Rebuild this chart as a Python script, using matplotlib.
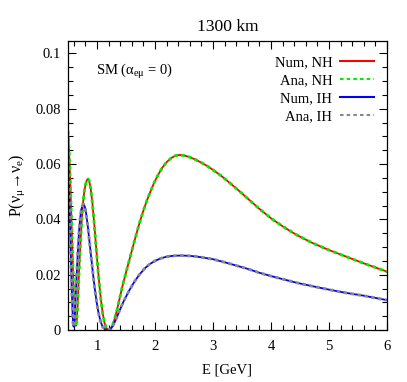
import numpy as np
import matplotlib
matplotlib.use('Agg')
import matplotlib.pyplot as plt
from matplotlib.ticker import MultipleLocator, FormatStrFormatter

# values (E in GeV, probability)
E_nh = [0.50, 0.52, 0.54, 0.56, 0.58, 0.60, 0.62, 0.635, 0.65, 0.665, 0.68, 0.70,
        0.72, 0.74, 0.76, 0.78, 0.80, 0.825, 0.845, 0.865, 0.89, 0.92, 0.95, 0.98,
        1.01, 1.04, 1.07, 1.10, 1.13, 1.16, 1.19, 1.22, 1.25, 1.29, 1.34, 1.38,
        1.44, 1.50, 1.56, 1.62, 1.68, 1.74, 1.80, 1.86, 1.92, 1.98, 2.05, 2.12,
        2.20, 2.28, 2.35, 2.42, 2.50, 2.60, 2.70, 2.80, 2.90, 3.00, 3.15, 3.30,
        3.45, 3.60, 3.80, 4.00, 4.20, 4.44, 4.70, 5.00, 5.30, 5.60, 5.80, 6.00]
P_nh = [0.0720, 0.0640, 0.0530, 0.0395, 0.0255, 0.0130, 0.0045, 0.0015, 0.0030,
        0.0085, 0.0160, 0.0255, 0.0335, 0.0405, 0.0460, 0.0500, 0.0524, 0.0542,
        0.0546, 0.0539, 0.0513, 0.0460, 0.0390, 0.0312, 0.0235, 0.0165, 0.0105,
        0.0058, 0.0025, 0.0008, 0.0001, 0.0000, 0.0008, 0.0030, 0.0068, 0.0105,
        0.0160, 0.0208, 0.0255, 0.0302, 0.0348, 0.0392, 0.0432, 0.0468, 0.0500,
        0.0530, 0.0560, 0.0585, 0.0607, 0.0622, 0.0630, 0.0633, 0.0631, 0.0625,
        0.0616, 0.0605, 0.0593, 0.0579, 0.0556, 0.0530, 0.0503, 0.0475, 0.0438,
        0.0404, 0.0375, 0.0344, 0.0316, 0.0289, 0.0265, 0.0241, 0.0226, 0.0211]

E_ih = [0.50, 0.515, 0.53, 0.545, 0.56, 0.575, 0.59, 0.60, 0.615, 0.63, 0.65, 0.67,
        0.69, 0.71, 0.73, 0.75, 0.775, 0.79, 0.81, 0.84, 0.87, 0.90, 0.93, 0.96,
        0.99, 1.02, 1.06, 1.10, 1.15, 1.19, 1.23, 1.27, 1.32, 1.38, 1.46, 1.55,
        1.64, 1.73, 1.82, 1.90, 2.00, 2.10, 2.20, 2.30, 2.40, 2.50, 2.60, 2.70,
        2.80, 3.00, 3.20, 3.40, 3.60, 3.80, 4.00, 4.20, 4.44, 4.70, 5.00, 5.30,
        5.60, 5.80, 6.00]
P_ih = [0.0640, 0.0540, 0.0420, 0.0300, 0.0180, 0.0080, 0.0015, 0.0012, 0.0045,
        0.0110, 0.0200, 0.0285, 0.0355, 0.0405, 0.0436, 0.0450, 0.0453, 0.0446,
        0.0425, 0.0378, 0.0320, 0.0262, 0.0205, 0.0152, 0.0106, 0.0068, 0.0032,
        0.0010, 0.0001, 0.0000, 0.0004, 0.0014, 0.0035, 0.0066, 0.0104, 0.0141,
        0.0173, 0.0200, 0.0222, 0.0237, 0.0250, 0.0259, 0.0265, 0.0268, 0.0269,
        0.0269, 0.0268, 0.0266, 0.0263, 0.0256, 0.0245, 0.0233, 0.0221, 0.0207,
        0.0195, 0.0184, 0.0171, 0.0159, 0.0146, 0.0134, 0.0124, 0.0116, 0.0108]

labels = ['Num, NH', 'Ana, NH', 'Num, IH', 'Ana, IH']

plt.rcParams['font.family'] = ['Liberation Serif', 'DejaVu Serif']
plt.rcParams['mathtext.fontset'] = 'custom'
plt.rcParams['mathtext.rm'] = 'Liberation Serif'
plt.rcParams['mathtext.it'] = 'Liberation Serif:italic'
plt.rcParams['font.size'] = 10.5

fig = plt.figure(figsize=(4.07, 3.82), dpi=100)
ax = fig.add_axes([68 / 407, 1 - 330 / 382, 319 / 407, 289 / 382])

ax.plot(E_nh, P_nh, color='#ff0000', lw=1.3, label=labels[0])
ax.plot(E_nh, P_nh, color='#00ee00', lw=2.1, dashes=(1.2, 1.2), label=labels[1])
ax.plot(E_ih, P_ih, color='#0000ff', lw=1.3, label=labels[2])
ax.plot(E_ih, P_ih, color='#888888', lw=2.1, dashes=(1.2, 1.2), label=labels[3])

ax.set_xlim(0.5, 6)
ax.set_ylim(0, 0.1045)
ax.xaxis.set_major_locator(MultipleLocator(1))
ax.xaxis.set_minor_locator(MultipleLocator(0.2))
ax.yaxis.set_major_locator(MultipleLocator(0.02))
ax.yaxis.set_minor_locator(MultipleLocator(0.005))
ax.yaxis.set_major_formatter(FormatStrFormatter('%g'))
ax.tick_params(which='both', direction='in', top=True, right=True, width=0.8)
ax.tick_params(which='major', length=6)
ax.tick_params(which='minor', length=3.5)
ax.tick_params(axis='x', which='major', pad=7)
ax.tick_params(axis='y', which='major', pad=5)
for s in ax.spines.values():
    s.set_linewidth(0.9)

ax.set_title('1300 km', pad=7)
ax.set_xlabel('E [GeV]', labelpad=8)
ax.set_ylabel('P(ν$_\\mathrm{μ}$→ν$_\\mathrm{e}$)', fontsize=11.5, labelpad=6)

ax.text(0.088, 0.896, 'SM (α$_\\mathrm{eμ}$ = 0)', transform=ax.transAxes,
        va='center', ha='left')

leg = ax.legend(loc='upper right', bbox_to_anchor=(0.959, 0.947), frameon=False,
                markerfirst=False, borderpad=0, borderaxespad=0, handlelength=2.35,
                handletextpad=0.5, labelspacing=0.32)
# thinner samples in the key, like the gnuplot original
for i, line in enumerate(leg.get_lines()):
    line.set_linewidth(1.5)
    if i % 2 == 1:
        line.set_dashes((1.7, 1.5))

fig.savefig('out.png', dpi=100)
